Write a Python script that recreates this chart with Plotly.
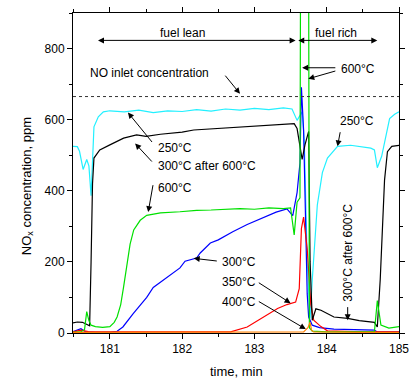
import plotly.graph_objects as go

# ---------------- data ----------------
t_250 = [180.48, 180.55, 180.58, 180.63, 180.68, 180.71, 180.74, 180.78, 180.84, 180.91, 181.0,
         181.2, 181.4, 181.6, 181.8, 182.0, 182.2, 182.4, 182.6, 182.8, 183.0, 183.2, 183.4,
         183.52, 183.59, 183.63, 183.66, 183.69, 183.73, 183.77, 183.80, 183.87, 183.94, 184.01,
         184.15, 184.33, 184.5, 184.61, 184.66, 184.70, 184.76, 184.82, 184.87, 184.94, 185.0]
v_250 = [525, 524, 511, 460, 488, 470, 386, 580, 608, 622, 625,
         622, 627, 620, 625, 623, 628, 624, 630, 627, 632, 628, 633,
         630, 598, 612, 622, 540, 200, 40, 150, 360, 451, 492,
         525, 528, 522, 520, 515, 465, 497, 560, 603, 615, 622]

t_300a = [180.48, 180.55, 180.62, 180.68, 180.72, 180.74, 180.76, 180.78, 180.86, 181.0, 181.19,
          181.37, 181.5, 181.7, 182.0, 182.16, 182.4, 182.63, 182.8, 183.0, 183.3, 183.55,
          183.59, 183.63, 183.66, 183.70, 183.75, 183.77, 183.80, 183.85, 183.92, 184.10, 184.29,
          184.45, 184.66, 184.70, 184.74, 184.80, 184.84, 184.9, 185.0]
v_300a = [28, 31, 30, 25, 20, 200, 420, 492, 515, 529, 548,
          557, 553, 559, 565, 571, 574, 577, 579, 582, 585, 589,
          575, 520, 488, 530, 567, 200, 36, 68, 64, 45, 41,
          35, 30, 17, 150, 430, 510, 525, 528]

t_600 = [180.48, 180.6, 180.65, 180.68, 180.71, 180.74, 180.8, 180.9, 181.0, 181.06, 181.1,
         181.15, 181.19, 181.23, 181.28, 181.33, 181.42, 181.51, 181.7, 181.97, 182.2, 182.4,
         182.6, 182.8, 183.0, 183.2, 183.4, 183.5, 183.55, 183.59, 183.63, 183.65, 183.74,
         183.76, 183.8, 184.0, 184.3, 184.66, 184.70, 184.75, 184.86, 185.0]
v_600 = [2, 3, 10, 60, 35, 22, 18, 16, 18, 30, 45,
         80, 130, 190, 250, 290, 317, 331, 338, 341, 345, 346,
         348, 350, 348, 352, 350, 352, 276, 368, 380, 2000, 2000,
         15, 5, 3, 3, 3, 91, 22, 14, 18]

t_300 = [180.48, 180.55, 180.6, 180.65, 180.7, 180.8, 181.0, 181.1, 181.18, 181.32, 181.51,
         181.6, 181.79, 181.97, 182.04, 182.2, 182.25, 182.39, 182.5, 182.7, 182.9, 183.18,
         183.3, 183.45, 183.53, 183.59, 183.63, 183.65, 183.68, 183.73, 183.75, 183.80, 183.9,
         184.1, 184.3, 184.66, 184.7, 185.0]
v_300 = [3, 8, 12, 5, 3, 2, 2, 5, 17, 54, 100,
         128, 156, 183, 202, 211, 225, 253, 262, 285, 305, 331,
         340, 349, 330, 395, 478, 691, 570, 110, 45, 22, 15,
         11, 10, 8, 3, 3]

t_350 = [180.48, 180.6, 180.65, 180.7, 180.8, 181.0, 181.5, 182.0, 182.4, 182.67, 182.9,
         183.13, 183.32, 183.45, 183.57, 183.62, 183.65, 183.68, 183.73, 183.78, 183.82,
         183.92, 184.01, 184.5, 185.0]
v_350 = [3, 8, 6, 4, 3, 3, 4, 4, 4, 3, 17,
         45, 69, 80, 87, 125, 294, 326, 237, 80, 36,
         18, 6, 3, 3]

t_400 = [180.48, 181.0, 182.0, 183.0, 183.6, 183.68, 183.74, 183.77, 183.79, 183.82, 184.5, 185.0]
v_400 = [2, 2, 3, 2, 3, 3, 15, 30, 8, 3, 2, 2]

no_inlet = 665

series = [
    ("250°C", t_250, v_250, "#22F0FF"),
    ("300°C", t_300, v_300, "#0000FF"),
    ("350°C", t_350, v_350, "#FF0000"),
    ("300°C after 600°C", t_300a, v_300a, "#000000"),
    ("600°C", t_600, v_600, "#00E000"),
    ("400°C", t_400, v_400, "#FF8000"),
]

FONT = "Arial, Liberation Sans, sans-serif"

fig = go.Figure()
for name, tx, vy, col in series:
    fig.add_trace(go.Scatter(x=tx, y=vy, mode="lines", name=name,
                             line=dict(color=col, width=1.2), showlegend=False))

fig.add_shape(type="line", xref="paper", x0=0, x1=1, yref="y", y0=no_inlet, y1=no_inlet,
              line=dict(color="#333333", width=1, dash="dot"))

def arrow(x, y, ax, ay, both=False):
    fig.add_annotation(x=x, y=y, ax=ax, ay=ay, xref="x", yref="y", axref="x", ayref="y",
                       text="", showarrow=True, arrowhead=2, arrowsize=1.2, arrowwidth=1,
                       arrowcolor="black", arrowside="end+start" if both else "end",
                       standoff=0, startstandoff=0)

def label(x, y, text, angle=0, xanchor="center"):
    fig.add_annotation(x=x, y=y, xref="x", yref="y", text=text, showarrow=False,
                       textangle=angle, xanchor=xanchor, yanchor="middle",
                       font=dict(family=FONT, size=12, color="black"))

# fuel lean / fuel rich
arrow(183.57, 823, 180.815, 823, both=True)
arrow(184.70, 823, 183.585, 823, both=True)
label(182.0, 845, "fuel lean")
label(184.13, 845, "fuel rich")

# NO inlet
label(180.70, 732, "NO inlet concentration", xanchor="left")
arrow(182.80, 673, 182.58, 728)

# 600°C top
label(184.17, 743, "600°C", xanchor="left")
arrow(183.66, 746, 184.14, 746)
arrow(183.745, 715, 184.14, 738)

# left group
label(181.64, 519, "250°C", xanchor="left")
arrow(181.25, 620, 181.6, 533)
label(181.64, 469, "300°C after 600°C", xanchor="left")
arrow(181.35, 533, 181.6, 478)
label(181.64, 409, "600°C", xanchor="left")
arrow(181.53, 340, 181.6, 420)

# lower group
label(182.53, 200, "300°C", xanchor="left")
arrow(182.16, 210, 182.5, 202)
label(182.53, 144, "350°C", xanchor="left")
arrow(183.5, 84, 183.04, 144)
label(182.53, 88, "400°C", xanchor="left")
arrow(183.71, 11, 183.04, 91)

# right group
label(184.42, 597, "250°C")
arrow(184.15, 525, 184.19, 569)
label(184.29, 225, "300°C after 600°C", angle=-90)
arrow(184.29, 36, 184.29, 77)

# axis titles
fig.add_annotation(xref="paper", yref="paper", x=0.5, y=-0.12, xanchor="center", yanchor="middle",
                   text="time, min", showarrow=False,
                   font=dict(family=FONT, size=13, color="black"))
fig.add_annotation(xref="paper", yref="paper", x=-0.14, y=0.46, xanchor="center", yanchor="middle",
                   text="NO<sub>x</sub> concentration, ppm", textangle=-90, showarrow=False,
                   font=dict(family=FONT, size=13, color="black"))

axis_common = dict(showline=True, linecolor="black", linewidth=1, mirror="ticks",
                   ticks="outside", ticklen=5, tickwidth=1, tickcolor="black",
                   showgrid=False, zeroline=False,
                   tickfont=dict(family=FONT, size=12, color="black"))

fig.update_xaxes(range=[180.49, 185], tick0=181, dtick=1,
                 minor=dict(dtick=0.5, ticks="outside", ticklen=3, tickcolor="black", showgrid=False),
                 **axis_common)
fig.update_yaxes(range=[0, 900], tick0=0, dtick=200,
                 minor=dict(dtick=100, ticks="outside", ticklen=3, tickcolor="black", showgrid=False),
                 **axis_common)

fig.update_layout(width=416, height=379, margin=dict(l=73, r=17, t=7, b=46),
                  plot_bgcolor="white", paper_bgcolor="white",
                  font=dict(family=FONT, size=12, color="black"))

fig.write_html("out.html")
